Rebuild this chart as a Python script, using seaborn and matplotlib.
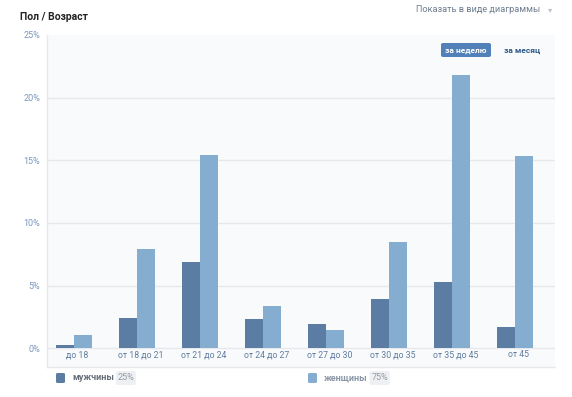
import pandas as pd
import matplotlib.pyplot as plt
import matplotlib.transforms as mtrans
import seaborn as sns
from matplotlib.patches import FancyBboxPatch

# values, percent of audience
age_groups = ['до 18', 'от 18 до 21', 'от 21 до 24', 'от 24 до 27',
              'от 27 до 30', 'от 30 до 35', 'от 35 до 45', 'от 45']
men = [0.24, 2.45, 6.92, 2.32, 1.92, 3.94, 5.32, 1.73]
women = [1.06, 7.9, 15.43, 3.35, 1.44, 8.49, 21.83, 15.34]
sex_labels = ['мужчины', 'женщины']
sex_share = ['25%', '75%']
y_ticks = [0, 5, 10, 15, 20, 25]

c_men = '#5b7da3'
c_women = '#84adcf'

df = pd.DataFrame({
    'age': age_groups * 2,
    'pct': men + women,
    'sex': [sex_labels[0]] * len(men) + [sex_labels[1]] * len(women),
})

sns.set_style('white')
plt.rcParams['font.family'] = ['Roboto', 'DejaVu Sans']

fig = plt.figure(figsize=(5.72, 3.97), dpi=100)
ax = fig.add_axes([47 / 572, 30 / 397, 508 / 572, 332 / 397])
ax.set_facecolor('#f9fafc')

sns.barplot(data=df, x='age', y='pct', hue='sex', palette=[c_men, c_women],
            width=0.57, gap=0, saturation=1, legend=False, ax=ax, linewidth=0)

ax.set_xlim(-0.43, 7.63)
ax.set_ylim(-1.49, 25)
ax.set_xlabel('')
ax.set_ylabel('')

for v in y_ticks[:-1]:
    ax.axhline(v, color='#e6e8ec', lw=1, zorder=0)

ax.set_yticks(y_ticks)
ax.set_yticklabels([f'{v}%' for v in y_ticks])
ax.tick_params(axis='y', length=0, pad=5, labelsize=6.5, labelcolor='#7a97bb')
ax.tick_params(axis='x', length=0, pad=-12, labelsize=6.3, labelcolor='#5f7da0')
shift = mtrans.ScaledTranslation(3.5 / 100, 0, fig.dpi_scale_trans)
for lbl in ax.get_xticklabels():
    lbl.set_transform(lbl.get_transform() + shift)

for side in ['top', 'right']:
    ax.spines[side].set_visible(False)
for side in ['left', 'bottom']:
    ax.spines[side].set_color('#e6e8ec')
    ax.spines[side].set_linewidth(1)

# header
fig.text(20 / 572, 1 - 17 / 397, 'Пол / Возраст', fontsize=7.5, fontweight='bold',
         color='#222222', va='center', ha='left')
fig.text(540 / 572, 1 - 10 / 397, 'Показать в виде диаграммы', fontsize=6.6,
         color='#6f7d8f', va='center', ha='right')
fig.text(550 / 572, 1 - 10 / 397, '▾', fontsize=6, color='#b8c1cc', va='center', ha='center',
         family=['DejaVu Sans'])

# period buttons
btn = FancyBboxPatch((441 / 572, 1 - 57 / 397), 50 / 572, 14 / 397,
                     boxstyle='round,pad=0,rounding_size=0.004', transform=fig.transFigure,
                     facecolor='#5181b8', edgecolor='none')
fig.add_artist(btn)
fig.text(466 / 572, 1 - 50 / 397, 'за неделю', fontsize=6, fontweight='bold',
         color='white', va='center', ha='center')
fig.text(522 / 572, 1 - 50 / 397, 'за месяц', fontsize=6, fontweight='bold',
         color='#2a5885', va='center', ha='center')

# legend
legend_x = [56, 308]
text_colors = ['#656d78', '#8a96a6']
for i, (lab, share, col) in enumerate(zip(sex_labels, sex_share, [c_men, c_women])):
    x0 = legend_x[i]
    sq = FancyBboxPatch((x0 / 572, 1 - 383 / 397), 9 / 572, 10 / 397,
                        boxstyle='round,pad=0,rounding_size=0.003', transform=fig.transFigure,
                        facecolor=col, edgecolor='none')
    fig.add_artist(sq)
    t = fig.text((x0 + 16) / 572, 1 - 378 / 397, lab, fontsize=6.5, fontweight='bold',
                 color=text_colors[i], va='center', ha='left')
    fig.canvas.draw()
    bb = t.get_window_extent()
    bx = bb.x1 + 2
    box = FancyBboxPatch((bx / 572, 1 - 385 / 397), 20 / 572, 14 / 397,
                         boxstyle='round,pad=0,rounding_size=0.004', transform=fig.transFigure,
                         facecolor='#eef0f3', edgecolor='none')
    fig.add_artist(box)
    fig.text((bx + 10) / 572, 1 - 378 / 397, share, fontsize=6.5, color='#939ba5',
             va='center', ha='center')

plt.savefig('out.png', dpi=100)
plt.clf()
